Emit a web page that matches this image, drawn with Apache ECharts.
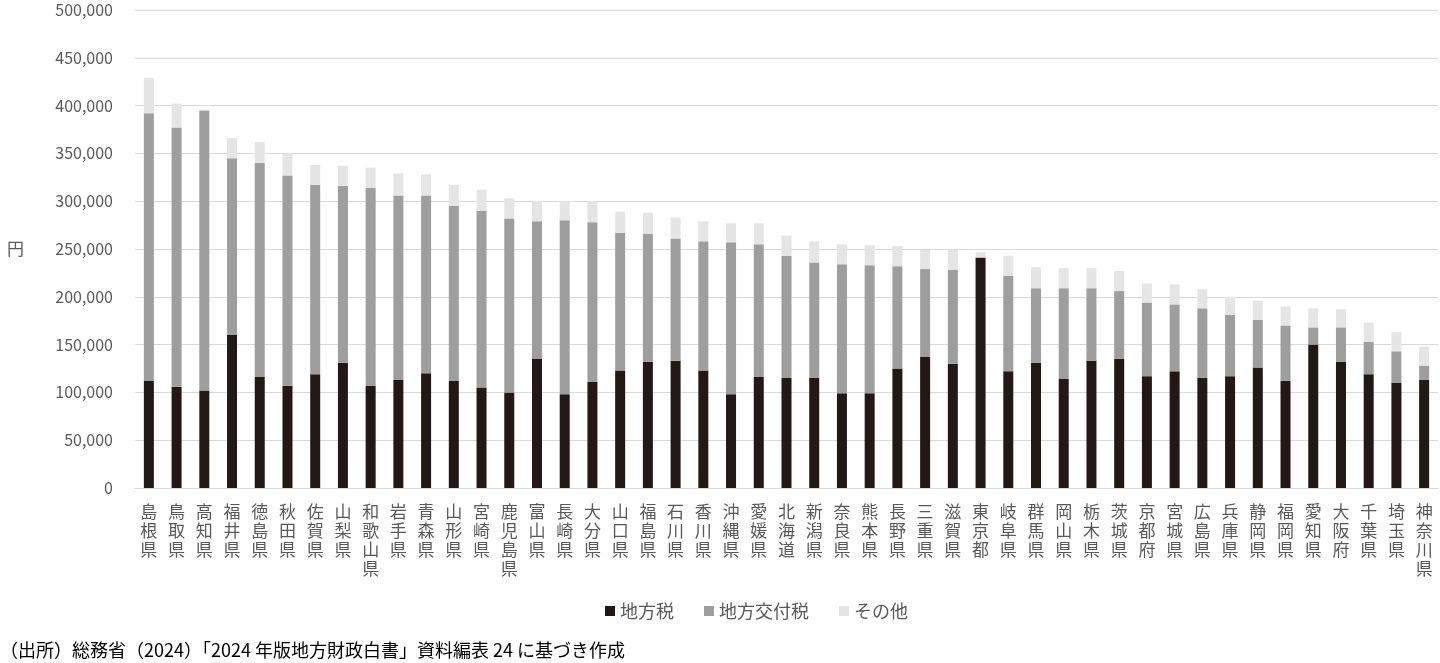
<!DOCTYPE html>
<html>
<head>
<meta charset="utf-8">
<script src="https://cdn.jsdelivr.net/npm/echarts@6/dist/echarts.min.js"></script>
<style>
html,body{margin:0;padding:0;background:#fff;}
#chart{width:1440px;height:663px;}
</style>
</head>
<body>
<div id="chart"></div>
<script>
// 都道府県（合計の多い順）
var prefs=['島根県','鳥取県','高知県','福井県','徳島県','秋田県','佐賀県','山梨県','和歌山県','岩手県',
  '青森県','山形県','宮崎県','鹿児島県','富山県','長崎県','大分県','山口県','福島県','石川県',
  '香川県','沖縄県','愛媛県','北海道','新潟県','奈良県','熊本県','長野県','三重県','滋賀県',
  '東京都','岐阜県','群馬県','岡山県','栃木県','茨城県','京都府','宮城県','広島県','兵庫県',
  '静岡県','福岡県','愛知県','大阪府','千葉県','埼玉県','神奈川県'];

// 地方税（円）
var localTax=[112000,106000,102000,160000,116000,107000,119000,131000,107000,113000,
  120000,112000,105000,100000,135000,98000,111000,123000,132000,133000,
  123000,98000,116000,115000,115000,99000,99000,125000,137000,130000,
  241000,122000,131000,114000,133000,135000,117000,122000,115000,117000,
  126000,112000,150000,132000,119000,110000,113000];

// 地方交付税（円）
var kofuTax=[280000,271000,293000,185000,224000,220000,198000,185000,207000,193000,
  186000,183000,185000,182000,144000,182000,167000,144000,134000,128000,
  135000,159000,139000,128000,121000,135000,134000,107000,92000,98000,
  0,100000,78000,95000,76000,71000,77000,70000,73000,64000,
  50000,58000,18000,36000,34000,33000,15000];

// その他（円）
var others=[37000,25000,1000,21000,22000,23000,21000,21000,21000,23000,
  22000,22000,22000,21000,21000,20000,22000,22000,22000,22000,
  21000,20000,22000,21000,22000,21000,21000,21000,20000,21000,
  6000,21000,22000,21000,21000,21000,20000,21000,20000,19000,
  20000,20000,20000,19000,20000,20000,20000];

var yTicks={min:0,max:500000,interval:50000};

var chart=echarts.init(document.getElementById('chart'));
var font='"Noto Sans CJK JP","Noto Sans",sans-serif';

var option={
  animation:false,
  textStyle:{fontFamily:font},
  grid:{left:135,right:2,top:10,bottom:175},
  legend:{
    top:597,
    left:600,
    itemWidth:10,
    itemHeight:10,
    itemGap:30,
    icon:'rect',
    textStyle:{color:'#595959',fontSize:18,fontFamily:font},
    data:['地方税','地方交付税','その他']
  },
  xAxis:{
    type:'category',
    data:prefs,
    axisLine:{lineStyle:{color:'#d9d9d9'}},
    axisTick:{show:false},
    axisLabel:{
      interval:0,
      color:'#595959',
      fontSize:17,
      lineHeight:19,
      margin:14,
      verticalAlign:'top',
      formatter:function(v){return v.split('').join('\n');}
    }
  },
  yAxis:{
    type:'value',
    min:yTicks.min,
    max:yTicks.max,
    interval:yTicks.interval,
    name:'円',
    nameLocation:'middle',
    nameRotate:0,
    nameGap:111,
    nameTextStyle:{color:'#595959',fontSize:17},
    axisLine:{show:false},
    axisTick:{show:false},
    splitLine:{lineStyle:{color:'#d9d9d9',width:1}},
    axisLabel:{
      color:'#595959',
      fontSize:16,
      margin:22,
      formatter:function(v){return v.toLocaleString('en-US');}
    }
  },
  series:[
    {name:'地方税',type:'bar',stack:'total',data:localTax,barWidth:10,
      itemStyle:{color:'#231815'}},
    {name:'地方交付税',type:'bar',stack:'total',data:kofuTax,barWidth:10,
      itemStyle:{color:'#9d9e9d'}},
    {name:'その他',type:'bar',stack:'total',data:others,barWidth:10,
      itemStyle:{color:'#e5e5e5'}}
  ],
  graphic:[
    {type:'text',left:0,top:641,
      style:{text:'（出所）総務省（2024）「2024 年版地方財政白書」資料編表 24 に基づき作成',
        fill:'#000',font:'18px '+font}}
  ]
};
chart.setOption(option);
</script>
</body>
</html>
